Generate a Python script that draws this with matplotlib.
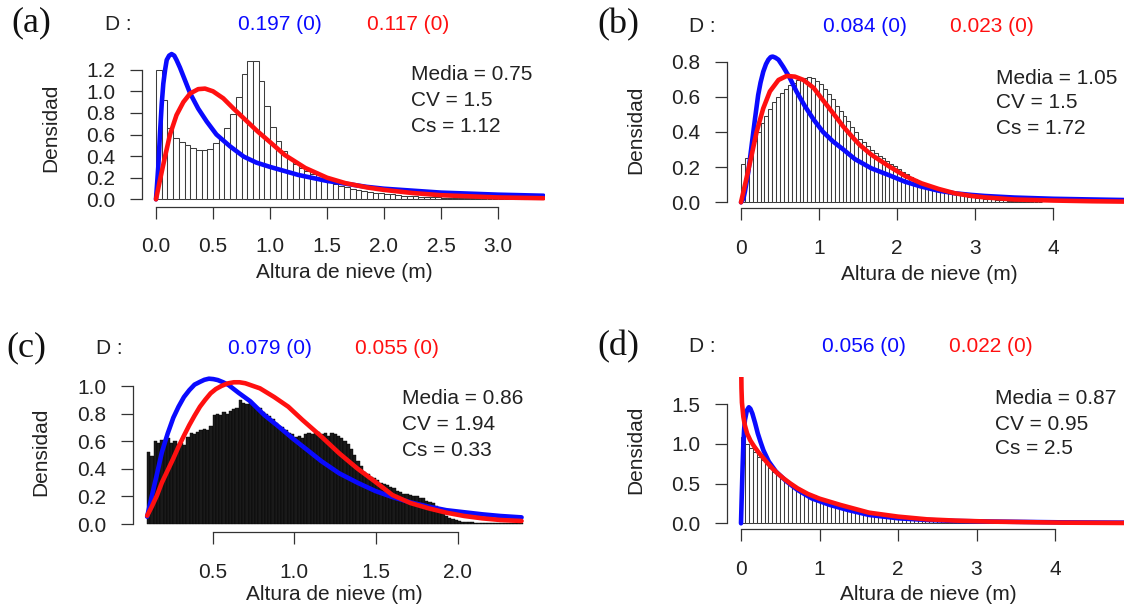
import matplotlib
matplotlib.use("Agg")
import matplotlib.pyplot as plt
import numpy as np

plt.rcParams['font.family'] = ['Liberation Sans', 'DejaVu Sans']

# ---------------------------------------------------------------- data
# (a) snow depth histogram, 0.05 m bins starting at 0
a_bin_start, a_bin_width = 0.0, 0.05
a_density = [1.20, 0.92, 0.66, 0.565, 0.53, 0.50, 0.475, 0.46, 0.455, 0.465,
             0.52, 0.57, 0.66, 0.79, 0.95, 1.16, 1.28, 1.28, 1.10, 0.86,
             0.67, 0.54, 0.45, 0.38, 0.33, 0.29, 0.26, 0.23, 0.20, 0.18,
             0.16, 0.14, 0.125, 0.11, 0.10, 0.09, 0.08, 0.07, 0.062, 0.055,
             0.05, 0.045, 0.04, 0.035, 0.03, 0.027, 0.024, 0.021, 0.019, 0.017,
             0.015, 0.013, 0.012, 0.011, 0.010, 0.009, 0.008, 0.007, 0.007, 0.006,
             0.005, 0.005, 0.004, 0.004, 0.003]
a_blue_x = [0.0, 0.02, 0.035, 0.05, 0.064, 0.08, 0.094, 0.115, 0.137, 0.16, 0.18,
            0.21, 0.24, 0.27, 0.30, 0.37, 0.445, 0.53, 0.65, 0.77, 0.88, 1.0,
            1.25, 1.5, 1.85, 2.0, 2.5, 3.0, 3.4]
a_blue_y = [0.0, 0.30, 0.61, 0.88, 1.07, 1.20, 1.29, 1.33, 1.345, 1.33, 1.29,
            1.22, 1.14, 1.06, 0.98, 0.84, 0.72, 0.60, 0.49, 0.395, 0.34, 0.30,
            0.225, 0.17, 0.115, 0.098, 0.062, 0.043, 0.033]
a_red_x = [0.0, 0.035, 0.079, 0.123, 0.18, 0.24, 0.30, 0.37, 0.43, 0.50, 0.59,
           0.68, 0.77, 0.89, 1.0, 1.13, 1.31, 1.5, 1.66, 1.85, 2.0, 2.25, 2.5,
           3.0, 3.4]
a_red_y = [0.0, 0.18, 0.395, 0.60, 0.78, 0.90, 0.98, 1.02, 1.025, 1.0, 0.935,
           0.84, 0.75, 0.63, 0.53, 0.41, 0.29, 0.20, 0.15, 0.11, 0.087, 0.058,
           0.038, 0.017, 0.01]
a_stats = ["Media = 0.75", "CV = 1.5", "Cs = 1.12"]
a_d = ["0.197 (0)", "0.117 (0)"]

# (b)
b_bin_start, b_bin_width = 0.0, 0.05
b_density = [0.215, 0.25, 0.30, 0.35, 0.40, 0.45, 0.49, 0.53, 0.57, 0.60,
             0.62, 0.645, 0.665, 0.68, 0.695, 0.70, 0.705, 0.71, 0.705, 0.69,
             0.67, 0.645, 0.615, 0.585, 0.55, 0.52, 0.49, 0.46, 0.43, 0.40,
             0.36, 0.34, 0.32, 0.30, 0.28, 0.265, 0.25, 0.235, 0.22, 0.205,
             0.19, 0.175, 0.16, 0.145, 0.13, 0.12, 0.11, 0.10, 0.09, 0.082,
             0.075, 0.068, 0.061, 0.055, 0.05, 0.045, 0.04, 0.036, 0.032, 0.029,
             0.026, 0.023, 0.02, 0.018, 0.016, 0.014, 0.012, 0.011, 0.010, 0.009,
             0.008, 0.007, 0.006, 0.005, 0.004, 0.004, 0.003]
b_blue_x = [0.0, 0.03, 0.05, 0.094, 0.137, 0.18, 0.22, 0.25, 0.285, 0.32, 0.35,
            0.38, 0.405, 0.44, 0.48, 0.54, 0.627, 0.71, 0.82, 0.93, 1.05, 1.18,
            1.31, 1.46, 1.67, 1.89, 2.1, 2.31, 2.53, 2.74, 2.95, 3.12, 3.5, 4.0,
            4.5, 4.9]
b_blue_y = [0.0, 0.02, 0.06, 0.174, 0.326, 0.477, 0.61, 0.68, 0.742, 0.785, 0.81,
            0.825, 0.828, 0.822, 0.81, 0.77, 0.705, 0.63, 0.545, 0.47, 0.40, 0.345,
            0.30, 0.245, 0.193, 0.155, 0.117, 0.089, 0.066, 0.051, 0.042, 0.036,
            0.027, 0.02, 0.016, 0.013]
b_red_x = [0.0, 0.07, 0.137, 0.2, 0.285, 0.37, 0.48, 0.585, 0.69, 0.80, 0.93,
           1.05, 1.18, 1.31, 1.44, 1.52, 1.67, 1.89, 2.1, 2.31, 2.53, 2.74, 2.95,
           3.12, 3.5, 4.0, 4.5, 4.9]
b_red_y = [0.0, 0.136, 0.27, 0.40, 0.534, 0.63, 0.695, 0.718, 0.714, 0.695, 0.65,
           0.58, 0.506, 0.43, 0.364, 0.326, 0.27, 0.206, 0.15, 0.108, 0.076, 0.051,
           0.036, 0.028, 0.016, 0.01, 0.006, 0.004]
b_stats = ["Media = 1.05", "CV = 1.5", "Cs = 1.72"]
b_d = ["0.084 (0)", "0.023 (0)"]

# (c) finer 0.02 m bins starting at 0.1
c_bin_start, c_bin_width = 0.10, 0.02
c_density = [0.52, 0.49, 0.60, 0.59, 0.61, 0.60, 0.62, 0.59, 0.60, 0.58,
             0.59, 0.57, 0.63, 0.66, 0.65, 0.67, 0.68, 0.69, 0.68, 0.71,
             0.79, 0.80, 0.79, 0.81, 0.80, 0.82, 0.83, 0.84, 0.90, 0.88,
             0.87, 0.89, 0.86, 0.85, 0.84, 0.81, 0.80, 0.78, 0.76, 0.73,
             0.71, 0.70, 0.68, 0.66, 0.65, 0.63, 0.64, 0.62, 0.65, 0.66,
             0.65, 0.66, 0.67, 0.65, 0.66, 0.64, 0.66, 0.65, 0.64, 0.62,
             0.60, 0.58, 0.54, 0.50, 0.46, 0.42, 0.38, 0.36, 0.34, 0.33,
             0.32, 0.30, 0.29, 0.28, 0.27, 0.26, 0.24, 0.23, 0.22, 0.22,
             0.21, 0.20, 0.20, 0.19, 0.19, 0.17, 0.16, 0.15, 0.13, 0.10,
             0.08, 0.06, 0.045, 0.035, 0.028, 0.02, 0.016, 0.013, 0.012, 0.011,
             0.010, 0.010, 0.009, 0.009, 0.008, 0.008, 0.007, 0.007, 0.006, 0.006,
             0.005, 0.005, 0.005, 0.004, 0.004]
c_blue_x = [0.1, 0.13, 0.161, 0.19, 0.226, 0.26, 0.292, 0.325, 0.358, 0.39, 0.423,
            0.45, 0.478, 0.505, 0.532, 0.565, 0.598, 0.66, 0.73, 0.816, 0.90, 0.99,
            1.08, 1.166, 1.275, 1.385, 1.494, 1.60, 1.71, 1.82, 1.93, 2.04, 2.15,
            2.26, 2.39]
c_blue_y = [0.053, 0.21, 0.367, 0.52, 0.657, 0.77, 0.85, 0.92, 0.97, 1.01, 1.03,
            1.045, 1.053, 1.05, 1.043, 1.027, 1.007, 0.95, 0.89, 0.79, 0.71, 0.62,
            0.536, 0.455, 0.367, 0.30, 0.24, 0.195, 0.157, 0.126, 0.10, 0.085, 0.07,
            0.058, 0.048]
c_red_x = [0.1, 0.13, 0.161, 0.19, 0.226, 0.26, 0.292, 0.325, 0.358, 0.39, 0.423,
           0.455, 0.488, 0.52, 0.554, 0.59, 0.63, 0.665, 0.70, 0.79, 0.877, 0.963,
           1.05, 1.166, 1.275, 1.385, 1.494, 1.60, 1.71, 1.82, 1.93, 2.04, 2.15,
           2.26, 2.39]
c_red_y = [0.06, 0.13, 0.21, 0.30, 0.39, 0.475, 0.56, 0.64, 0.717, 0.785, 0.85,
           0.90, 0.947, 0.978, 1.0, 1.018, 1.027, 1.027, 1.02, 0.983, 0.92, 0.85,
           0.754, 0.633, 0.512, 0.403, 0.307, 0.21, 0.152, 0.114, 0.082, 0.058,
           0.041, 0.029, 0.022]
c_stats = ["Media = 0.86", "CV = 1.94", "Cs = 0.33"]
c_d = ["0.079 (0)", "0.055 (0)"]

# (d)
d_bin_start, d_bin_width = 0.0, 0.05
d_density = [1.09, 1.00, 0.95, 0.90, 0.84, 0.79, 0.74, 0.69, 0.65, 0.61,
             0.57, 0.535, 0.50, 0.47, 0.44, 0.415, 0.39, 0.37, 0.35, 0.33,
             0.31, 0.295, 0.28, 0.265, 0.25, 0.235, 0.22, 0.21, 0.195, 0.18,
             0.17, 0.16, 0.15, 0.14, 0.13, 0.12, 0.115, 0.105, 0.10, 0.092,
             0.085, 0.08, 0.074, 0.068, 0.063, 0.058, 0.054, 0.05, 0.046, 0.043,
             0.04, 0.037, 0.034, 0.032, 0.03, 0.028, 0.026, 0.024, 0.022, 0.02,
             0.019, 0.018, 0.017, 0.016, 0.015, 0.014, 0.013, 0.012, 0.011, 0.010,
             0.009, 0.008, 0.008, 0.007, 0.006, 0.006, 0.005, 0.005, 0.004, 0.004,
             0.003]
d_blue_x = [0.0, 0.008, 0.02, 0.03, 0.04, 0.05, 0.075, 0.1, 0.12, 0.145, 0.18,
            0.214, 0.25, 0.285, 0.354, 0.446, 0.583, 0.72, 0.9, 1.135, 1.36, 1.63,
            2.0, 2.37, 2.73, 3.19, 4.1, 4.88]
d_blue_y = [0.0, 0.29, 0.7, 1.0, 1.18, 1.3, 1.42, 1.46, 1.44, 1.38, 1.26,
            1.13, 1.02, 0.92, 0.776, 0.65, 0.524, 0.42, 0.314, 0.23, 0.168, 0.105,
            0.063, 0.042, 0.029, 0.022, 0.012, 0.008]
d_red_x = [0.003, 0.006, 0.012, 0.03, 0.05, 0.078, 0.12, 0.17, 0.225, 0.285, 0.34,
           0.4, 0.47, 0.54, 0.63, 0.72, 0.85, 1.0, 1.27, 1.63, 2.0, 2.37, 2.73,
           3.19, 4.1, 4.88]
d_red_y = [1.95, 1.7, 1.52, 1.34, 1.23, 1.13, 1.04, 0.964, 0.89, 0.82, 0.755,
           0.69, 0.625, 0.566, 0.5, 0.44, 0.37, 0.31, 0.23, 0.134, 0.084, 0.05,
           0.034, 0.021, 0.008, 0.004]
d_stats = ["Media = 0.87", "CV = 0.95", "Cs = 2.5"]
d_d = ["0.056 (0)", "0.022 (0)"]

panel_tags = ["(a)", "(b)", "(c)", "(d)"]
x_label = "Altura de nieve (m)"
y_label = "Densidad"

# ---------------------------------------------------------------- figure
W, H = 1124, 609
fig = plt.figure(figsize=(W / 100, H / 100), dpi=100)
fig.patch.set_facecolor("white")


def fpos(x, y):
    """Pixel position (origin top-left) to figure fraction."""
    return x / W, 1 - y / H


FS = 15
TXT = "#222222"
BLUE = "#0a0aff"
RED = "#ff1010"

layout = {
    # axis lines (px), data origin (px) and pixels per unit
    "a": dict(left=141.7, right=544.7, top=40, bottom=206.7,
              x0=156, xppu=114, y0=199.3, yppu=108,
              xticks=[0.0, 0.5, 1.0, 1.5, 2.0, 2.5, 3.0], xfmt="{:.1f}",
              yticks=[0.0, 0.2, 0.4, 0.6, 0.8, 1.0, 1.2],
              tag=(11, 23), dlab=(105, 25), dvals=(280, 408), dy=25,
              stats_x=411, stats_y=(75, 100, 126), xlab=(344, 272),
              ylab=(51, 128), bars="open"),
    "b": dict(left=726.5, right=1124, top=40, bottom=208,
              x0=741, xppu=78.1, y0=202.3, yppu=176,
              xticks=[0, 1, 2, 3, 4], xfmt="{:.0f}",
              yticks=[0.0, 0.2, 0.4, 0.6, 0.8],
              tag=(597, 25), dlab=(689, 26), dvals=(865, 992), dy=26,
              stats_x=996, stats_y=(78, 103, 128), xlab=(929, 275),
              ylab=(636, 130), bars="open"),
    "c": dict(left=133, right=538, top=360, bottom=532,
              x0=130.8, xppu=163.5, y0=524, yppu=138,
              xticks=[0.5, 1.0, 1.5, 2.0], xfmt="{:.1f}",
              yticks=[0.0, 0.2, 0.4, 0.6, 0.8, 1.0],
              tag=(6, 348), dlab=(96, 348), dvals=(270, 397), dy=348,
              stats_x=402, stats_y=(399, 425, 451), xlab=(334, 595),
              ylab=(41, 452), bars="solid"),
    "d": dict(left=726.5, right=1124, top=377, bottom=529.3,
              x0=741, xppu=78.5, y0=523.3, yppu=79.5,
              xticks=[0, 1, 2, 3, 4], xfmt="{:.0f}",
              yticks=[0.0, 0.5, 1.0, 1.5],
              tag=(597, 347), dlab=(689, 347), dvals=(864, 991), dy=347,
              stats_x=995, stats_y=(399, 424, 449), xlab=(928, 595),
              ylab=(636, 450), bars="open"),
}

series = {
    "a": (a_bin_start, a_bin_width, a_density, a_blue_x, a_blue_y, a_red_x, a_red_y, a_stats, a_d),
    "b": (b_bin_start, b_bin_width, b_density, b_blue_x, b_blue_y, b_red_x, b_red_y, b_stats, b_d),
    "c": (c_bin_start, c_bin_width, c_density, c_blue_x, c_blue_y, c_red_x, c_red_y, c_stats, c_d),
    "d": (d_bin_start, d_bin_width, d_density, d_blue_x, d_blue_y, d_red_x, d_red_y, d_stats, d_d),
}

for tag, key in zip(panel_tags, ["a", "b", "c", "d"]):
    L = layout[key]
    start, width, dens, bx, by, rx, ry, stats, dvals = series[key]

    ax = fig.add_axes([L["left"] / W, 1 - L["bottom"] / H,
                       (L["right"] - L["left"]) / W, (L["bottom"] - L["top"]) / H])
    ax.set_xlim((L["left"] - L["x0"]) / L["xppu"], (L["right"] - L["x0"]) / L["xppu"])
    ax.set_ylim((L["y0"] - L["bottom"]) / L["yppu"], (L["y0"] - L["top"]) / L["yppu"])
    ax.patch.set_alpha(0)

    # histogram
    lefts = start + width * np.arange(len(dens))
    if L["bars"] == "solid":
        ax.bar(lefts, dens, width=width, align="edge", facecolor="#1a1a1a",
               edgecolor="#000000", linewidth=0.3, zorder=1)
    else:
        ax.bar(lefts, dens, width=width, align="edge", facecolor="white",
               edgecolor="#3c3c3c", linewidth=0.75, zorder=1)

    # fitted densities
    ax.plot(bx, by, color=BLUE, lw=3.3, solid_capstyle="round",
            solid_joinstyle="round", zorder=3)
    ax.plot(rx, ry, color=RED, lw=3.3, solid_capstyle="round",
            solid_joinstyle="round", zorder=4)

    # R-style detached axes
    for s in ("top", "right"):
        ax.spines[s].set_visible(False)
    for s in ("left", "bottom"):
        ax.spines[s].set_color("#333333")
        ax.spines[s].set_linewidth(0.9)
    ax.spines["left"].set_bounds(L["yticks"][0], L["yticks"][-1])
    ax.spines["bottom"].set_bounds(L["xticks"][0], L["xticks"][-1])
    ax.set_xticks(L["xticks"])
    ax.set_xticklabels([L["xfmt"].format(v) for v in L["xticks"]])
    ax.set_yticks(L["yticks"])
    ax.set_yticklabels(["{:.1f}".format(v) for v in L["yticks"]])
    ax.tick_params(axis="both", direction="out", length=8.5, width=0.9,
                   color="#333333", labelsize=FS, labelcolor=TXT)
    ax.tick_params(axis="x", pad=13.5)
    ax.tick_params(axis="y", pad=10.5)

    ax.set_xlabel(x_label, fontsize=FS, color=TXT)
    ax.xaxis.set_label_coords(*fpos(*L["xlab"]), transform=fig.transFigure)
    ax.xaxis.label.set_va("center")
    ax.set_ylabel(y_label, fontsize=FS, color=TXT)
    ax.yaxis.set_label_coords(*fpos(*L["ylab"]), transform=fig.transFigure)
    ax.yaxis.label.set_va("center")

    # header: panel tag and goodness-of-fit statistics
    fig.text(*fpos(*L["tag"]), tag, family=["Liberation Serif", "DejaVu Serif"],
             fontsize=26, color="#111111", ha="left", va="center")
    fig.text(*fpos(*L["dlab"]), "D :", fontsize=FS, color=TXT, ha="left", va="center")
    fig.text(*fpos(L["dvals"][0], L["dy"]), dvals[0], fontsize=FS, color=BLUE,
             ha="center", va="center")
    fig.text(*fpos(L["dvals"][1], L["dy"]), dvals[1], fontsize=FS, color=RED,
             ha="center", va="center")

    for line, yy in zip(stats, L["stats_y"]):
        fig.text(*fpos(L["stats_x"], yy), line, fontsize=FS, color=TXT,
                 ha="left", va="center")

fig.savefig("out.png", dpi=100, facecolor="white")
